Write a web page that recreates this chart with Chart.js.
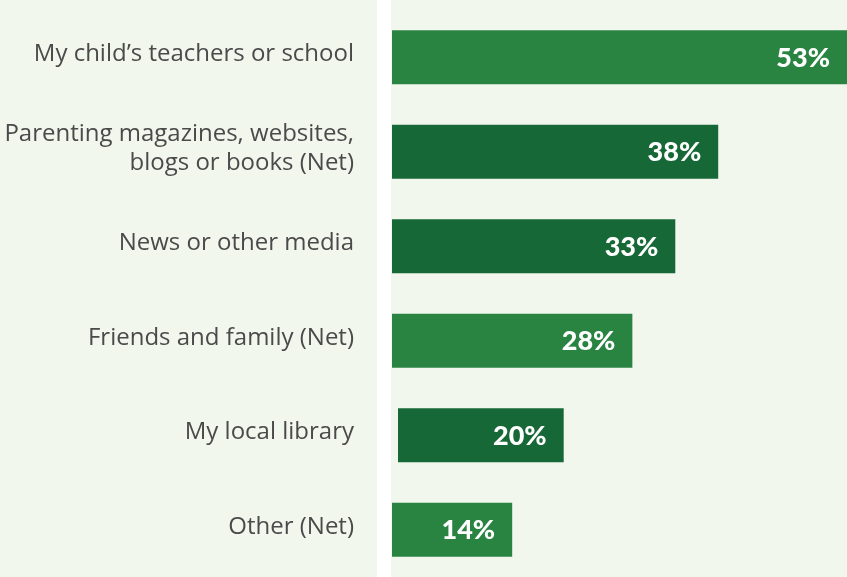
<!DOCTYPE html>
<html><head><meta charset="utf-8">
<script src="https://cdn.jsdelivr.net/npm/chart.js@4"></script>
<style>
html,body{margin:0;padding:0;background:#f2f7ee;}
#wrap{width:847px;height:577px;position:relative;}
</style></head>
<body><div id="wrap"><canvas id="c" width="847" height="577"></canvas></div>
<script>
const categories = [
  "My child\u2019s teachers or school",
  ["Parenting magazines, websites,", "blogs or books (Net)"],
  "News or other media",
  "Friends and family (Net)",
  "My local library",
  "Other (Net)"
];
const values = [53, 38, 33, 28, 20, 14];
const starts = [0, 0, 0, 0, 0.7, 0];
const valueLabels = ["53%", "38%", "33%", "28%", "20%", "14%"];
const barColors = ["#298442", "#166837", "#166837", "#298442", "#166837", "#298442"];

const bandPlugin = {
  id: 'band',
  beforeDatasetsDraw(chart) {
    const {ctx, chartArea} = chart;
    ctx.save();
    ctx.fillStyle = '#ffffff';
    ctx.fillRect(chartArea.left - 15, 0, 14, chart.height);
    ctx.restore();
  }
};
const valuePlugin = {
  id: 'vals',
  afterDatasetsDraw(chart) {
    const {ctx} = chart;
    const meta = chart.getDatasetMeta(0);
    ctx.save();
    ctx.fillStyle = '#ffffff';
    ctx.font = '900 27px Lato';
    ctx.textAlign = 'right';
    ctx.textBaseline = 'middle';
    meta.data.forEach((bar, i) => {
      ctx.fillText(valueLabels[i], bar.x - 17, bar.y + 1);
    });
    ctx.restore();
  }
};

new Chart(document.getElementById('c'), {
  type: 'bar',
  data: {
    labels: categories,
    datasets: [{
      data: values.map((v, i) => [starts[i], v]),
      backgroundColor: barColors,
      borderWidth: 0,
      borderSkipped: false,
      categoryPercentage: 1,
      barPercentage: 0.57
    }]
  },
  options: {
    indexAxis: 'y',
    responsive: false,
    animation: false,
    layout: {padding: {top: 10, bottom: 0, left: 0, right: 0}},
    plugins: {legend: {display: false}, tooltip: {enabled: false}},
    scales: {
      x: {
        min: 0, max: 53,
        display: false,
        grid: {display: false}
      },
      y: {
        grid: {display: true, drawOnChartArea: false, drawTicks: true, tickLength: 38, color: 'rgba(0,0,0,0)'},
        border: {display: false},
        afterFit(scale) { scale.width = 392; scale.paddingTop = 0; scale.paddingBottom = 0; },
        ticks: {
          padding: 0,
          labelOffset: -3,
          color: '#4a4a4a',
          font: {family: 'Open Sans', size: 24},
          lineHeight: 1.17
        }
      }
    }
  },
  plugins: [bandPlugin, valuePlugin]
});
</script></body></html>
